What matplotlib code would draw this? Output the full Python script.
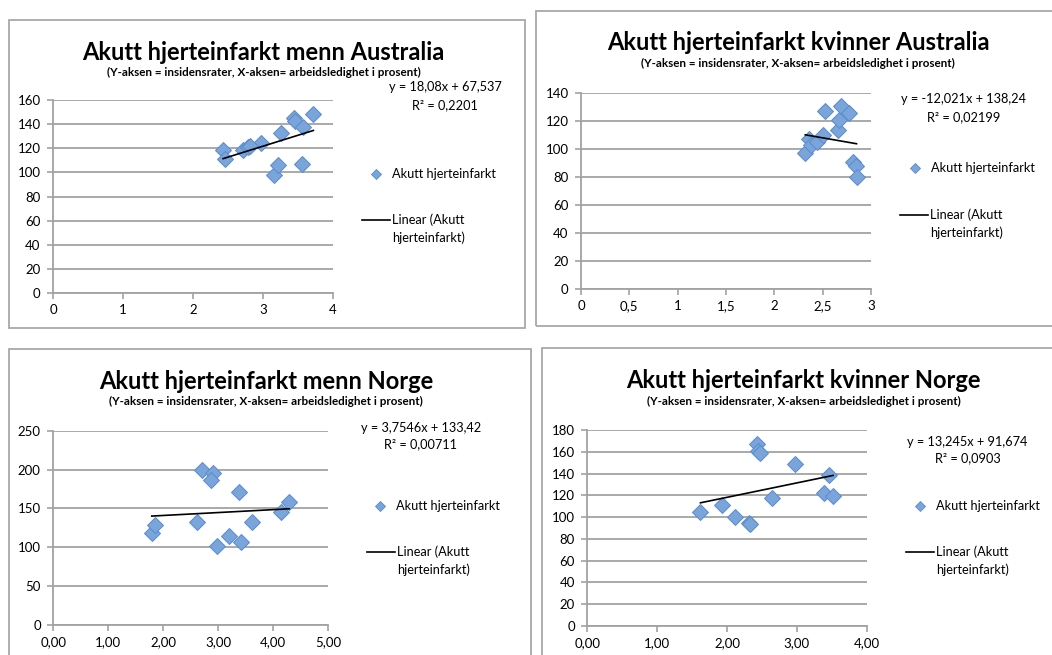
import numpy as np
import matplotlib
matplotlib.use("Agg")
import matplotlib.pyplot as plt
from matplotlib.patches import Rectangle
from matplotlib.lines import Line2D

plt.rcParams['font.family'] = ['Lato', 'DejaVu Sans']

W, H = 1052, 655

# ---- data ----
x_menn_aus = [2.43, 2.45, 2.72, 2.79, 2.97, 3.15, 3.21, 3.26, 3.44, 3.46, 3.57, 3.56, 3.72, 2.82]
y_menn_aus = [119, 111, 119, 121, 124, 98, 106, 133, 145, 143, 138, 107, 148, 122]

x_kv_aus = [2.32, 2.36, 2.38, 2.44, 2.50, 2.52, 2.66, 2.67, 2.69, 2.77, 2.81, 2.84, 2.85]
y_kv_aus = [97, 107, 103, 105, 110, 127, 114, 121, 131, 126, 91, 88, 80]

x_menn_nor = [1.79, 1.85, 2.61, 2.70, 2.90, 2.86, 2.97, 3.19, 3.38, 3.41, 3.62, 4.14, 4.29]
y_menn_nor = [119, 129, 132, 199, 195, 187, 102, 115, 171, 107, 132, 145, 158]

x_kv_nor = [1.62, 1.93, 2.12, 2.31, 2.33, 2.43, 2.45, 2.47, 2.65, 2.98, 3.39, 3.46, 3.52]
y_kv_nor = [105, 111, 100, 95, 94, 167, 161, 159, 118, 149, 122, 139, 119]

titles = ['Akutt hjerteinfarkt menn Australia', 'Akutt hjerteinfarkt kvinner Australia',
          'Akutt hjerteinfarkt menn Norge', 'Akutt hjerteinfarkt kvinner Norge']
subtitle = '(Y-aksen = insidensrater, X-aksen= arbeidsledighet i prosent)'
slopes = [18.08, -12.021, 3.7546, 13.245]
intercepts = [67.537, 138.24, 133.42, 91.674]
eq_texts = ['y = 18,08x + 67,537', 'y = -12,021x + 138,24', 'y = 3,7546x + 133,42', 'y = 13,245x + 91,674']
r2_texts = ['R² = 0,2201', 'R² = 0,02199', 'R² = 0,00711', 'R² = 0,0903']
series_name = 'Akutt hjerteinfarkt'

xs = [x_menn_aus, x_kv_aus, x_menn_nor, x_kv_nor]
ys = [y_menn_aus, y_kv_aus, y_menn_nor, y_kv_nor]
xlims = [(0, 4), (0, 3), (0, 5), (0, 4)]
xsteps = [1, 0.5, 1, 1]
ylims = [(0, 160), (0, 140), (0, 250), (0, 180)]
ysteps = [20, 20, 50, 20]
xfmt = ['{:g}', '{:g}', '{:.2f}', '{:.2f}']

# ---- layout in pixels ----
frames = [(9, 19.5, 525, 328), (535.5, 10.5, 1062, 325.5), (9, 349, 531, 680), (542, 348, 1062, 680)]
axes_px = [(53, 333, 100, 293.3), (581, 871, 93.3, 289.3), (53.3, 328.3, 430.7, 625), (587.3, 866.7, 430, 626)]
title_pos = [(263, 52), (798.5, 43), (266, 381.7), (803.3, 380)]
sub_pos = [(263.5, 72), (798, 63), (266.3, 401.7), (804, 401.7)]
eq_pos = [(445, 87, 105), (963.7, 99, 116.7), (420.8, 427.7, 444.3), (967.5, 441.7, 458.3)]
leg_marker = [(376, 174), (915, 168), (380, 505.7), (920, 505.7)]
leg_line = [(362, 390, 220), (900, 928, 215), (366.7, 395, 551.7), (906, 934, 551.7)]

fig = plt.figure(figsize=(W / 100, H / 100), dpi=100)


def fx(x):
    return x / W


def fy(y):
    return 1 - y / H


grid_c = '#a2a2a2'
fill_c = '#79a5db'
edge_c = '#5a8bcb'

for i in range(4):
    l, t, r, b = frames[i]
    fig.patches.append(Rectangle((fx(l), fy(b)), fx(r - l), (b - t) / H, transform=fig.transFigure,
                                 fill=False, edgecolor='#a8a8a8', linewidth=1.3))

    al, ar, at, ab = axes_px[i]
    ax = fig.add_axes([fx(al), fy(ab), fx(ar - al), (ab - at) / H])
    ax.set_xlim(*xlims[i])
    ax.set_ylim(*ylims[i])
    ax.set_yticks(np.arange(ylims[i][0], ylims[i][1] + 0.1, ysteps[i]))
    xt = np.arange(xlims[i][0], xlims[i][1] + 0.01, xsteps[i])
    ax.set_xticks(xt)
    ax.set_xticklabels([xfmt[i].format(v).replace('.', ',') for v in xt])
    ax.grid(axis='y', color=grid_c, linewidth=1.3)
    ax.set_axisbelow(True)
    for s in ['top', 'right']:
        ax.spines[s].set_visible(False)
    for s in ['left', 'bottom']:
        ax.spines[s].set_color(grid_c)
        ax.spines[s].set_linewidth(1.3)
    ax.tick_params(axis='both', colors=grid_c, labelcolor='black', labelsize=9.5, length=4, width=1.2)
    ax.tick_params(axis='y', pad=5)
    ax.tick_params(axis='x', pad=4)

    ax.plot(xs[i], ys[i], 'D', markersize=8.5, markerfacecolor=fill_c,
            markeredgecolor=edge_c, markeredgewidth=0.7, clip_on=False, zorder=3)
    x0, x1 = min(xs[i]), max(xs[i])
    ax.plot([x0, x1], [slopes[i] * x0 + intercepts[i], slopes[i] * x1 + intercepts[i]],
            color='black', linewidth=1.2, zorder=4)

    # titles
    tx, ty = title_pos[i]
    fig.text(fx(tx), fy(ty), titles[i], fontsize=17, fontweight='bold', ha='center', va='center')
    sx, sy = sub_pos[i]
    fig.text(fx(sx), fy(sy), subtitle, fontsize=8.4, fontweight='bold', ha='center', va='center')

    # trendline equation
    ex, ey1, ey2 = eq_pos[i]
    fig.text(fx(ex), fy(ey1), eq_texts[i], fontsize=9.2, ha='center', va='center')
    fig.text(fx(ex), fy(ey2), r2_texts[i], fontsize=9.2, ha='center', va='center')

    # legend
    mx, my = leg_marker[i]
    fig.add_artist(Line2D([fx(mx)], [fy(my)], marker='D', markersize=5.5, markerfacecolor=fill_c,
                          markeredgecolor=edge_c, markeredgewidth=0.6, transform=fig.transFigure))
    fig.text(fx(mx + 16), fy(my), series_name, fontsize=9.2, ha='left', va='center')
    lx0, lx1, ly = leg_line[i]
    fig.add_artist(Line2D([fx(lx0), fx(lx1)], [fy(ly), fy(ly)], color='black', linewidth=1.2,
                          transform=fig.transFigure))
    fig.text(fx(lx1 + 2), fy(ly), 'Linear (Akutt', fontsize=9.2, ha='left', va='center')
    fig.text(fx(lx1 + 2), fy(ly + 17.6), 'hjerteinfarkt)', fontsize=9.2, ha='left', va='center')

fig.savefig('out.png', dpi=100)
